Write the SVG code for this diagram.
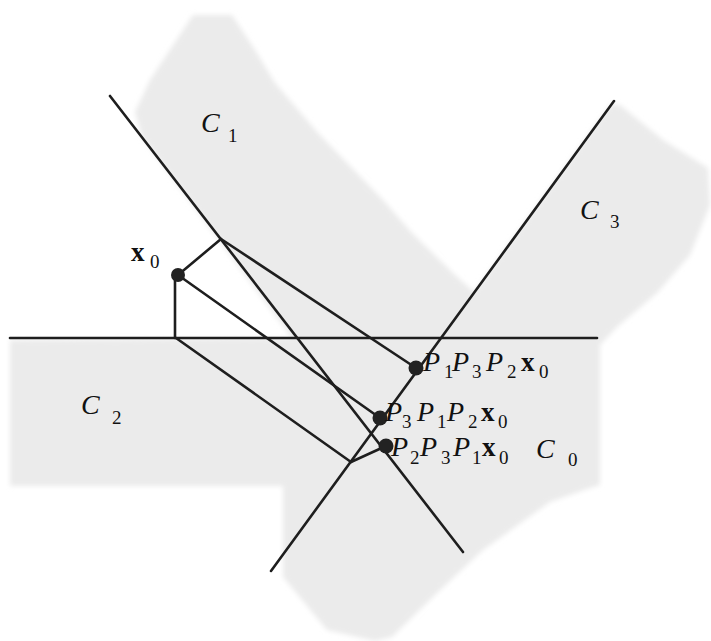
<svg xmlns="http://www.w3.org/2000/svg" width="711" height="641" viewBox="0 0 711 641">
<defs>
<style>
.ln{stroke:#1e1e1e;stroke-width:2.6;fill:none;stroke-linecap:round}
.dot{fill:#222}
.t{font-family:"Liberation Serif","Times New Roman",serif;fill:#111}
.it{font-style:italic;font-size:28px}
.bx{font-weight:bold;font-size:27px}
.sb{font-size:19px}
</style>
<filter id="soft" x="-5%" y="-5%" width="110%" height="110%">
<feGaussianBlur in="SourceGraphic" stdDeviation="2.5"/>
</filter>
</defs>
<rect width="711" height="641" fill="#ffffff"/>
<g id="shading">
<path filter="url(#soft)" fill="#ebebeb" d="M193,15 L232,15 L255,50 L275,83 L318,133 L383,200 L412,233 L455,275 L474,292 L611,104 L620,105 L663,140 L708,168 L710,205 L690,255 L657,293 L617,327 L600,345 L600,485 L590,488 L550,502 L483,550 L437,593 L392,637 L375,641 L327,630 L283,577 L283,486 L10,486 L10,340 L292,338 L142,137 L135,112 L150,80 Z"/>
</g>
<g id="connectors">
<line class="ln" x1="110" y1="96" x2="463" y2="552"/>
<line class="ln" x1="271" y1="571" x2="614" y2="101"/>
<line class="ln" x1="10" y1="338" x2="597" y2="338"/>
<line class="ln" x1="178" y1="275" x2="221" y2="239"/>
<line class="ln" x1="175" y1="275" x2="175" y2="338"/>
<line class="ln" x1="221" y1="239" x2="416" y2="368"/>
<line class="ln" x1="178" y1="275" x2="380" y2="418"/>
<line class="ln" x1="176" y1="338" x2="351" y2="462"/>
<line class="ln" x1="351" y1="462" x2="386" y2="446"/>
</g>
<g id="C1"><text class="t it" x="201" y="132">C</text><text class="t sb" x="228" y="142">1</text></g>
<g id="C2"><text class="t it" x="81" y="414">C</text><text class="t sb" x="112" y="424">2</text></g>
<g id="C3"><text class="t it" x="580" y="219">C</text><text class="t sb" x="610" y="228">3</text></g>
<g id="C0"><text class="t it" x="536" y="458">C</text><text class="t sb" x="568" y="466">0</text></g>
<g id="x0">
<circle class="dot" cx="178" cy="275" r="7"/>
<text class="t bx" x="131" y="261">x</text><text class="t sb" x="150" y="268">0</text>
</g>
<g id="P1P3P2x0">
<circle class="dot" cx="416" cy="368" r="7.5"/>
<text class="t it" x="423" y="371">P</text><text class="t sb" x="444" y="378">1</text>
<text class="t it" x="452" y="371">P</text><text class="t sb" x="472" y="378">3</text>
<text class="t it" x="486" y="371">P</text><text class="t sb" x="507" y="378">2</text>
<text class="t bx" x="521" y="371">x</text><text class="t sb" x="539" y="378">0</text>
</g>
<g id="P3P1P2x0">
<circle class="dot" cx="380" cy="418" r="7.5"/>
<text class="t it" x="385" y="421">P</text><text class="t sb" x="402" y="428">3</text>
<text class="t it" x="417" y="421">P</text><text class="t sb" x="437" y="428">1</text>
<text class="t it" x="447" y="421">P</text><text class="t sb" x="468" y="428">2</text>
<text class="t bx" x="481" y="421">x</text><text class="t sb" x="498" y="428">0</text>
</g>
<g id="P2P3P1x0">
<circle class="dot" cx="386" cy="446" r="7.5"/>
<text class="t it" x="391" y="456">P</text><text class="t sb" x="410" y="464">2</text>
<text class="t it" x="420" y="456">P</text><text class="t sb" x="441" y="464">3</text>
<text class="t it" x="453" y="456">P</text><text class="t sb" x="472" y="464">1</text>
<text class="t bx" x="482" y="456">x</text><text class="t sb" x="499" y="464">0</text>
</g>
</svg>
